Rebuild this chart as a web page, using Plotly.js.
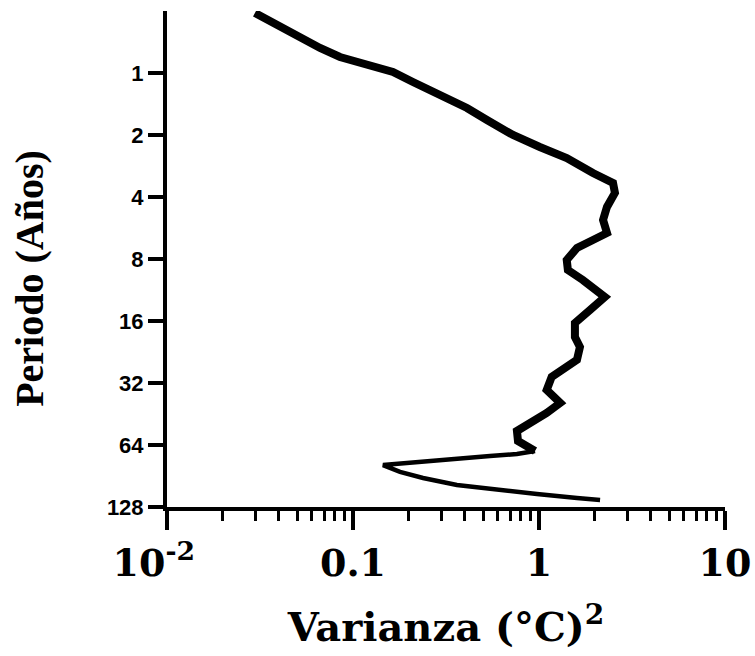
<!DOCTYPE html>
<html>
<head>
<meta charset="utf-8">
<script src="https://cdn.plot.ly/plotly-3.0.1.min.js"></script>
<style>
  html, body { margin: 0; padding: 0; background: #fff; }
  #chart { width: 755px; height: 656px; }
</style>
</head>
<body>
<div id="chart"></div>
<script>
// Variance spectrum of temperature against period (years).
// Main branch: periods from half a year down to ~68 years.
const periodMain = [0.511, 0.598, 0.668, 0.756, 0.836, 0.915, 0.989, 1.106, 1.279, 1.479,
  1.691, 2.0, 2.287, 2.587, 3.06, 3.42, 3.82, 4.47, 5.17, 5.98,
  6.47, 7.07, 8.09, 9.05, 10.12, 12.23, 14.15, 16.36, 19.14, 21.4,
  24.7, 27.7, 29.9, 34.6, 40.0, 44.7, 49.5, 54.7, 61.2, 65.4, 68.4];
const varianceMain = [0.0297, 0.0405, 0.0519, 0.0665, 0.0851, 0.119, 0.164, 0.210, 0.294, 0.410,
  0.525, 0.725, 1.01, 1.41, 1.95, 2.50, 2.56, 2.32, 2.21, 2.32,
  1.95, 1.60, 1.41, 1.43, 1.72, 2.26, 1.88, 1.56, 1.56, 1.66,
  1.60, 1.35, 1.17, 1.10, 1.30, 1.10, 0.895, 0.761, 0.771, 0.895, 0.952];

// Long-period tail (~68 to ~118 years).
const periodTail = [68.4, 70.8, 72.4, 74.8, 77.4, 80.1, 86.5, 92.5, 100.1, 105.8, 110.7, 115.8, 118.4];
const varianceTail = [0.952, 0.761, 0.545, 0.345, 0.202, 0.145, 0.179, 0.238, 0.362, 0.594, 0.975, 1.60, 2.13];

// Axis ticks
const periodTicks = [1, 2, 4, 8, 16, 32, 64, 128];
const periodTickText = ['1', '2', '4', '8', '16', '32', '64', '128'];
const varianceTicks = [0.01, 0.1, 1, 10];
const varianceTickText = ['10<sup>-2</sup>\u00a0\u00a0', '0.1', '1', '10'];
const varianceMinorTicks = [0.02, 0.03, 0.04, 0.05, 0.06, 0.07, 0.08, 0.09,
  0.2, 0.3, 0.4, 0.5, 0.6, 0.7, 0.8, 0.9,
  2, 3, 4, 5, 6, 7, 8, 9];

const serifWide = 'DejaVu Serif, serif';
const serifTimes = 'Liberation Serif, Times New Roman, serif';
const sansNarrow = 'Liberation Sans Narrow, Arial Narrow, Liberation Sans, Arial, sans-serif';

const traces = [
  {
    x: varianceMain, y: periodMain, type: 'scatter', mode: 'lines',
    line: { color: '#000', width: 8 }, hoverinfo: 'skip'
  },
  {
    x: varianceTail, y: periodTail, type: 'scatter', mode: 'lines',
    line: { color: '#000', width: 4.5 }, hoverinfo: 'skip'
  }
];

const layout = {
  width: 755, height: 656,
  margin: { l: 167, r: 30, t: 11, b: 149 },
  paper_bgcolor: '#fff', plot_bgcolor: '#fff',
  showlegend: false,
  xaxis: {
    type: 'log',
    range: [-2, 1],
    showgrid: false, zeroline: false,
    showline: true, linecolor: '#000', linewidth: 4,
    ticks: 'outside', ticklen: 19, tickwidth: 4, tickcolor: '#000',
    tickmode: 'array', tickvals: varianceTicks, ticktext: varianceTickText,
    ticklabelstandoff: 0,
    tickfont: { family: serifWide, size: 38, color: '#000', weight: 'bold' },
    minor: {
      tickmode: 'array', tickvals: varianceMinorTicks,
      ticks: 'outside', ticklen: 10, tickwidth: 3, tickcolor: '#000', showgrid: false
    },
    title: {
      text: 'Varianza (°C)<sup>2</sup>',
      standoff: 30,
      font: { family: serifWide, size: 40, color: '#000', weight: 'bold' }
    }
  },
  yaxis: {
    type: 'log',
    range: [Math.log10(128), Math.log10(0.5)],
    showgrid: false, zeroline: false,
    showline: true, linecolor: '#000', linewidth: 4,
    ticks: 'outside', ticklen: 15, tickwidth: 3.5, tickcolor: '#000',
    tickmode: 'array', tickvals: periodTicks, ticktext: periodTickText,
    ticklabelstandoff: 0,
    tickfont: { family: sansNarrow, size: 22, color: '#000', weight: 'bold' }
  },
  annotations: [
    {
      text: 'Periodo (Años)',
      xref: 'paper', yref: 'paper',
      x: -0.2455, y: 0.46,
      xanchor: 'center', yanchor: 'middle',
      textangle: -90, showarrow: false,
      font: { family: serifTimes, size: 40, color: '#000', weight: 'bold' }
    }
  ]
};

Plotly.newPlot('chart', traces, layout, { displayModeBar: false, staticPlot: true });
</script>
</body>
</html>
